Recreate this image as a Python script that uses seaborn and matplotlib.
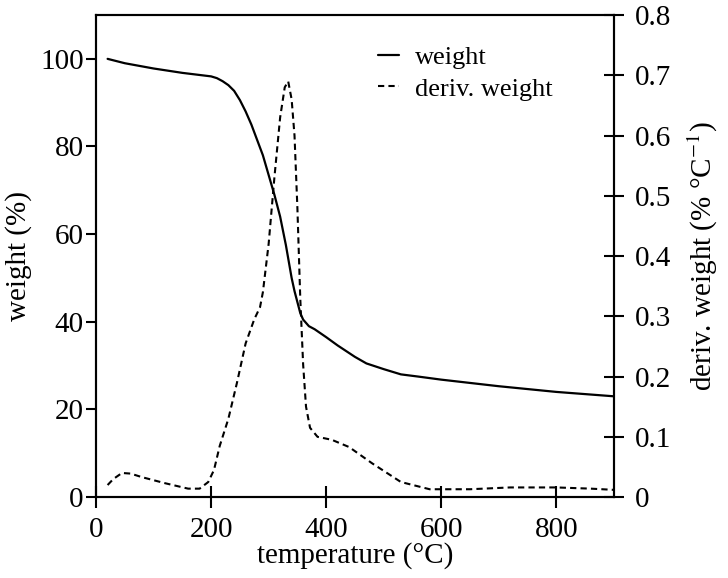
import pandas as pd
import matplotlib
matplotlib.use("Agg")
import matplotlib.pyplot as plt
import seaborn as sns

# --- DATA ---
weight_temp = [20, 50, 100, 150, 200, 210, 220, 230, 240, 250, 260, 270, 280,
               290, 300, 310, 320, 330, 340, 345, 355, 360, 370, 380, 400, 420,
               450, 470, 500, 530, 560, 600, 700, 800, 900]
weight_pct = [100, 99.0, 97.8, 96.8, 96.0, 95.6, 94.9, 94.0, 92.7, 90.6, 88.0,
              85.0, 81.5, 78.0, 73.5, 69.0, 64.0, 57.5, 50.0, 47.0, 42.0, 40.5,
              39.0, 38.3, 36.5, 34.6, 32.0, 30.5, 29.2, 28.0, 27.5, 26.8, 25.3,
              24.0, 23.0]

deriv_temp = [20, 30, 45, 60, 80, 120, 160, 180, 195, 205, 215, 230, 245, 260,
              275, 285, 290, 300, 310, 320, 328, 334, 340, 345, 350, 355, 360,
              365, 372, 385, 410, 440, 480, 530, 580, 650, 720, 800, 860, 900]
deriv_val = [0.020, 0.030, 0.040, 0.039, 0.033, 0.023, 0.014, 0.014, 0.025,
             0.045, 0.085, 0.130, 0.190, 0.255, 0.295, 0.315, 0.340, 0.420,
             0.530, 0.630, 0.680, 0.690, 0.660, 0.600, 0.480, 0.330, 0.220,
             0.150, 0.115, 0.100, 0.095, 0.083, 0.056, 0.025, 0.013, 0.013,
             0.016, 0.016, 0.014, 0.012]

weight_df = pd.DataFrame({"temperature": weight_temp, "weight": weight_pct})
deriv_df = pd.DataFrame({"temperature": deriv_temp, "deriv": deriv_val})

# --- STYLE ---
sns.set_style("ticks")
plt.rcParams["font.family"] = ["Liberation Serif", "DejaVu Serif"]
plt.rcParams["mathtext.fontset"] = "stix"
plt.rcParams["text.color"] = "black"
plt.rcParams["axes.labelcolor"] = "black"
plt.rcParams["xtick.color"] = "black"
plt.rcParams["ytick.color"] = "black"

fig = plt.figure(figsize=(7.28, 5.78), dpi=100)
ax = fig.add_axes([0.132, 0.140, 0.711, 0.834])
ax2 = ax.twinx()

sns.lineplot(data=weight_df, x="temperature", y="weight", ax=ax,
             color="black", linewidth=1.6, label="weight", legend=False)
sns.lineplot(data=deriv_df, x="temperature", y="deriv", ax=ax2,
             color="black", linewidth=1.5, linestyle=(0, (3, 2)),
             label="deriv. weight", legend=False)

ax.set_xlim(0, 900)
ax.set_ylim(0, 110)
ax2.set_ylim(0, 0.8)
ax.set_xticks([0, 200, 400, 600, 800])
ax.set_yticks([0, 20, 40, 60, 80, 100])
ax2.set_yticks([0, 0.1, 0.2, 0.3, 0.4, 0.5, 0.6, 0.7, 0.8])
ax2.set_yticklabels(["0", "0.1", "0.2", "0.3", "0.4", "0.5", "0.6", "0.7", "0.8"])

fs = 21
ax.set_xlabel("temperature (°C)", fontsize=fs, labelpad=0)
ax.set_ylabel("weight (%)", fontsize=fs, labelpad=6)
ax2.set_ylabel("deriv. weight (% °C$^{-1}$)", fontsize=fs, labelpad=10)

for a in (ax, ax2):
    for s in a.spines.values():
        s.set_linewidth(1.5)
        s.set_color("black")

ax.tick_params(axis="y", direction="out", length=7, width=1.5, labelsize=fs, pad=2)
ax.tick_params(axis="x", direction="inout", length=16, width=1.5, labelsize=fs, pad=6)
ax2.tick_params(axis="y", direction="inout", length=15, width=1.5, labelsize=fs, pad=8)

handles = ax.get_lines()[:1] + ax2.get_lines()[:1]
fig.legend(handles, ["weight", "deriv. weight"], loc="upper left",
           bbox_to_anchor=(0.487, 0.962), frameon=False, fontsize=19,
           handlelength=0.8, handletextpad=0.6, labelspacing=0.3)

fig.savefig("out.png", dpi=100)
